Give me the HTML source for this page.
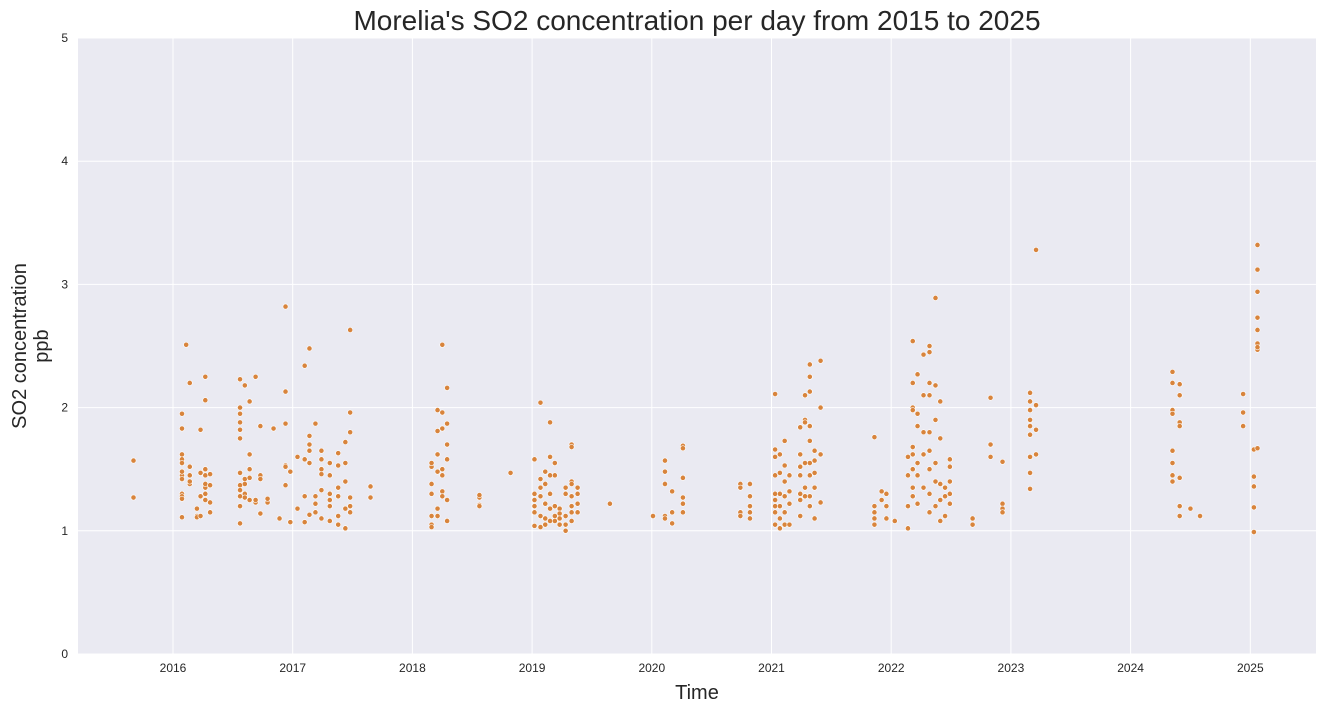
<!DOCTYPE html>
<html><head><meta charset="utf-8"><style>
body{margin:0;background:#fff;font-family:"Liberation Sans",Arial,sans-serif}
</style></head><body>
<svg id="chart" width="1326" height="713" xmlns="http://www.w3.org/2000/svg">
<rect x="78" y="38" width="1238" height="616" fill="#eaeaf2"/>
<g id="grid"></g>
<g id="pts"></g>
<g id="ticks" font-size="12" fill="#262626"></g>
<text x="697" y="30" font-size="28" text-anchor="middle" fill="#262626">Morelia's SO2 concentration per day from 2015 to 2025</text>
<text x="697" y="699" font-size="20" text-anchor="middle" fill="#262626">Time</text>
<g transform="translate(26,346) rotate(-90)" font-size="20" fill="#262626" text-anchor="middle">
<text x="0" y="0">SO2 concentration</text><text x="0" y="22">ppb</text></g>
</svg>
<script>
const yTicks=[0,1,2,3,4,5];
const xTicks=[2016,2017,2018,2019,2020,2021,2022,2023,2024,2025];
const dates=[2015.67,2016.075,2016.11,2016.14,2016.20,2016.23,2016.27,2016.31,2016.56,2016.60,2016.64,2016.69,2016.73,2016.79,2016.84,2016.89,2016.94,2016.98,2017.04,2017.10,2017.14,2017.19,2017.24,2017.31,2017.38,2017.44,2017.48,2017.65,2018.16,2018.21,2018.25,2018.29,2018.56,2018.82,2019.02,2019.07,2019.11,2019.15,2019.19,2019.23,2019.28,2019.33,2019.38,2019.65,2020.01,2020.11,2020.17,2020.26,2020.74,2020.82,2021.03,2021.07,2021.11,2021.15,2021.24,2021.28,2021.32,2021.36,2021.41,2021.86,2021.92,2021.96,2022.03,2022.14,2022.18,2022.22,2022.27,2022.32,2022.37,2022.41,2022.45,2022.49,2022.68,2022.83,2022.93,2023.16,2023.21,2024.35,2024.41,2024.50,2024.58,2024.94,2025.03,2025.06];
const values=[[1.57,1.27],[1.3,1.28,1.45,1.83,1.95,1.62,1.58,1.55,1.11,1.26,1.42,1.48],[2.51],[2.2,1.52,1.38,1.45,1.4],[1.12,1.18,1.11],[1.82,1.47,1.28,1.12],[2.25,2.06,1.5,1.45,1.35,1.3,1.25,1.38],[1.23,1.15,1.37,1.46],
[2.23,2.0,1.95,1.88,1.82,1.75,1.47,1.37,1.33,1.28,1.2,1.06],[2.18,1.42,1.38,1.3,1.27],[2.05,1.62,1.5,1.43,1.25],[2.25,1.23,1.25],[1.85,1.45,1.42,1.14],[1.23,1.26],[1.83],[1.1],[2.82,2.13,1.87,1.53,1.52,1.37],[1.07,1.07,1.48],[1.6,1.18],[1.58,2.34,1.28,1.07],[2.48,1.65,1.7,1.77,1.55,1.13],[1.87,1.28,1.22,1.15],
[1.58,1.46,1.33,1.5,1.65,1.1],[1.55,1.3,1.25,1.08,1.2,1.45],[1.53,1.63,1.35,1.12,1.05,1.28],[1.4,1.55,1.18,1.02,1.02,1.72],[1.96,2.63,1.27,1.15,1.2,1.8],[1.27,1.36],
[1.05,1.03,1.12,1.38,1.3,1.52,1.55],[1.81,1.98,1.62,1.48,1.18,1.12],[2.51,1.96,1.83,1.5,1.45,1.32,1.28],[2.16,1.87,1.7,1.58,1.25,1.08],[1.21,1.27,1.29,1.2],[1.47],
[1.58,1.3,1.25,1.2,1.15,1.04],[1.42,1.35,1.28,1.12,1.03,2.04],[1.22,1.1,1.05,1.48,1.38],[1.88,1.6,1.45,1.3,1.18,1.08],[1.55,1.45,1.2,1.12,1.08],[1.18,1.14,1.1,1.05],[1.0,1.05,1.12,1.3,1.35],[1.7,1.68,1.4,1.38,1.28,1.2,1.15,1.08],[1.35,1.3,1.22,1.15],[1.22],
[1.12],[1.57,1.48,1.38,1.12,1.1],[1.32,1.15,1.06],[1.69,1.67,1.43,1.27,1.22,1.15],[1.38,1.35,1.15,1.12],[1.38,1.28,1.2,1.15,1.1],
[2.11,1.66,1.6,1.45,1.3,1.2,1.15,1.05,1.25],[1.62,1.47,1.3,1.2,1.1,1.02],[1.73,1.53,1.4,1.28,1.15,1.05],[1.45,1.32,1.22,1.05],[1.84,1.62,1.52,1.45,1.3,1.25,1.12],[2.1,1.9,1.88,1.55,1.35,1.28],[2.35,2.25,2.13,1.85,1.73,1.55,1.45,1.28,1.2],[1.65,1.57,1.47,1.35,1.1],[2.38,2.0,1.62,1.23],
[1.76,1.2,1.15,1.1,1.05],[1.32,1.25],[1.3,1.2,1.1],[1.08],
[1.02,1.45,1.6,1.2],[2.54,2.2,2.0,1.98,1.68,1.62,1.5,1.35,1.28],[2.27,1.95,1.85,1.55,1.45,1.22],[2.43,2.1,1.8,1.62,1.35],[2.5,2.45,2.2,2.1,1.8,1.65,1.5,1.3,1.15],[2.89,2.18,1.9,1.55,1.4,1.2],[2.05,1.75,1.38,1.25,1.08],[1.35,1.28,1.12],[1.58,1.52,1.4,1.3,1.22],[1.1,1.05],
[2.08,1.7,1.6],[1.56,1.22,1.18,1.15],[2.12,2.05,1.98,1.9,1.85,1.78,1.6,1.47,1.34],[3.28,2.02,1.82,1.62],
[2.29,2.2,1.98,1.95,1.65,1.55,1.45,1.4],[2.19,2.1,1.88,1.85,1.43,1.2,1.12],[1.18],[1.12],
[2.11,1.96,1.85],[1.19,0.99,1.36,1.44,1.66],[3.32,3.12,2.94,2.73,2.63,2.52,2.47,2.49,1.67]];
const NS="http://www.w3.org/2000/svg";
const X=d=>173+(d-2016)*119.7;
const Y=v=>654-v*123.2;
const grid=document.getElementById('grid'),ticks=document.getElementById('ticks'),pts=document.getElementById('pts');
function mk(tag,attrs,parent){const e=document.createElementNS(NS,tag);for(const k in attrs)e.setAttribute(k,attrs[k]);parent.appendChild(e);return e;}
yTicks.forEach(t=>{
 const l=mk('line',{x1:78,x2:1316,y1:Y(t),y2:Y(t),stroke:'#fff','stroke-width':1},grid);
 
 
 const tx=mk('text',{x:68,y:Y(t)+4,'text-anchor':'end'},ticks);tx.textContent=t;
 
 
});
xTicks.forEach(t=>{
 const l=mk('line',{x1:X(t),x2:X(t),y1:38,y2:654,stroke:'#fff','stroke-width':1},grid);
 
 
 const tx=mk('text',{x:X(t),y:672,'text-anchor':'middle'},ticks);tx.textContent=t;
 
 
});
dates.forEach((d,i)=>{values[i].forEach(v=>{
 const c=mk('circle',{cx:X(d),cy:Y(v),r:2.6,fill:'#d8843c',stroke:'#fff','stroke-width':0.6},pts);
 
 
});});
</script>
</body></html>
